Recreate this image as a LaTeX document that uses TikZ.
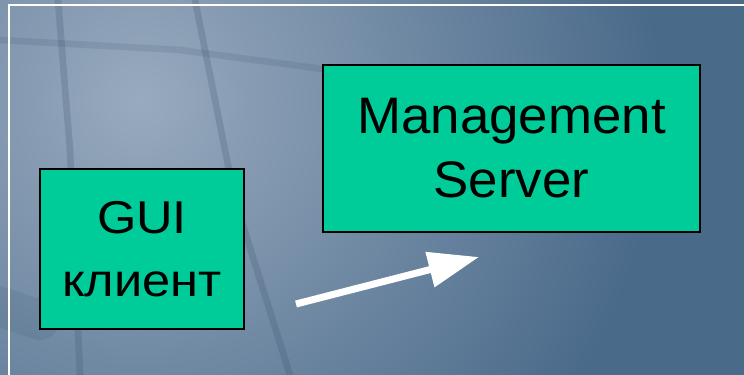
\documentclass[tikz,border=0pt]{standalone}
\usepackage{fontspec}
\setmainfont{Liberation Sans}
\newfontfamily\guifont[FakeStretch=1.1]{Liberation Sans}
\newfontfamily\srvfont[FakeStretch=1.03]{Liberation Sans}
\usetikzlibrary{arrows.meta}
\definecolor{boxgreen}{RGB}{0,204,153}
\definecolor{bgbase}{RGB}{74,106,138}
\definecolor{bglight}{RGB}{152,170,190}
\definecolor{bgdark}{RGB}{55,78,104}
\begin{document}
\begin{tikzpicture}[x=0.75pt,y=-0.75pt,
  greenbox/.style={draw=black,line width=1.5pt,fill=boxgreen,align=center,text=black,inner sep=0pt},
  flowarrow/.style={draw=white,line width=5.25pt,-{Triangle[length=38pt,width=26pt]}},
  shadowline/.style={draw=bgdark,line width=5pt,opacity=0.22,line cap=round},
  frameline/.style={draw=white,line width=1.5pt}]
\useasboundingbox (0,0) rectangle (744,375);
\fill[bgbase] (0,0) rectangle (744,375);
\begin{scope}
  \clip (0,0) rectangle (744,375);
  \shade[inner color=bglight, outer color=bgbase] (140,100) circle (520);
  \draw[shadowline] (58,0) -- (70,150) -- (80,375);
  \draw[shadowline] (195,0) -- (235,200) -- (290,375);
  \draw[shadowline,opacity=0.15] (0,40) -- (180,50) -- (330,70);
  \draw[bgdark,opacity=0.12,line width=30pt,line cap=round] (-20,300) -- (40,320);
\end{scope}
\draw[frameline] (8.5,380) -- (8.5,5.2) -- (750,5.2);
\node[greenbox,minimum width=153pt,minimum height=120pt,
      font=\guifont\fontsize{34.5pt}{47.25pt}\selectfont] (gui) at (142,249) {GUI\\клиент};
\node[greenbox,minimum width=282.75pt,minimum height=125.25pt,
      font=\srvfont\fontsize{38.5pt}{48pt}\selectfont] (server) at (511.5,148.5) {Management\\Server};
\coordinate (atail) at (296,304);
\coordinate (ahead) at (479,257);
\draw[flowarrow] (atail) -- (ahead);
\end{tikzpicture}
\end{document}
